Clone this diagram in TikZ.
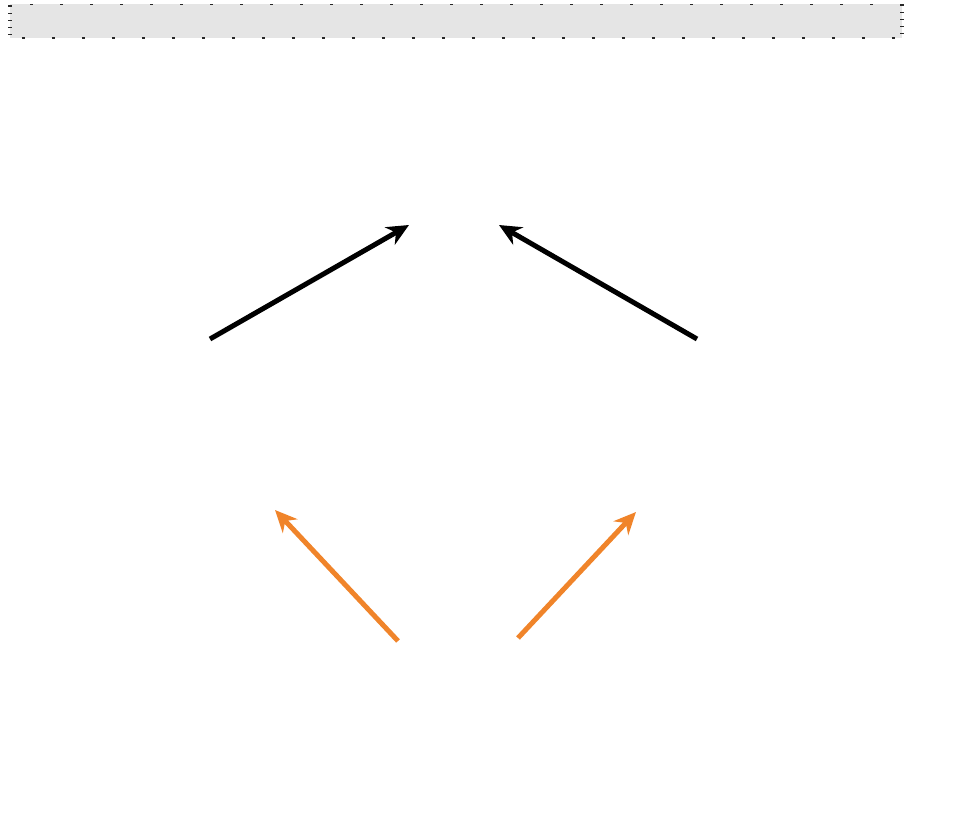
\documentclass[tikz,border=0pt]{standalone}
\usetikzlibrary{arrows.meta}
\definecolor{barfill}{RGB}{229,229,229}
\definecolor{tickcol}{RGB}{40,40,40}
\definecolor{orangearrow}{RGB}{240,132,42}
\tikzset{
  conn/.style={line width=5pt,-{Stealth[length=22pt,width=20pt,inset=7pt]}},
  blackconn/.style={conn,black},
  orangeconn/.style={conn,orangearrow},
  tickmark/.style={tickcol,line width=1.2pt}
}
\begin{document}
\begin{tikzpicture}[x=1pt,y=-1pt]
\useasboundingbox (0,0) rectangle (979,833);
% top bar
\fill[barfill] (10,4) rectangle (902,38);
\foreach \k in {0,...,28} {\draw[tickmark] ({30.2+30*\k},4.3) -- ++(3,0);}
\foreach \k in {0,...,29} {\draw[tickmark] ({21.8+30*\k},38) -- ++(3,0);}
\foreach \y in {6,13.2,20.3,27.3,34.3} {\draw[tickmark] (8,\y) -- ++(4,0);}
\foreach \y in {12.3,19.3,26.3,33.3} {\draw[tickmark] (900,\y) -- ++(4,0);}
\draw[tickcol,line width=2pt] (900,4.7) -- ++(4,0);
% connector end points
\coordinate (a1) at (210,339);
\coordinate (a2) at (409,225);
\coordinate (b1) at (697,339);
\coordinate (b2) at (499,225);
\coordinate (c1) at (398,641);
\coordinate (c2) at (275,510);
\coordinate (d1) at (518,638);
\coordinate (d2) at (636,512);
\draw[blackconn] (a1) -- (a2);
\draw[blackconn] (b1) -- (b2);
\draw[orangeconn] (c1) -- (c2);
\draw[orangeconn] (d1) -- (d2);
\end{tikzpicture}
\end{document}
